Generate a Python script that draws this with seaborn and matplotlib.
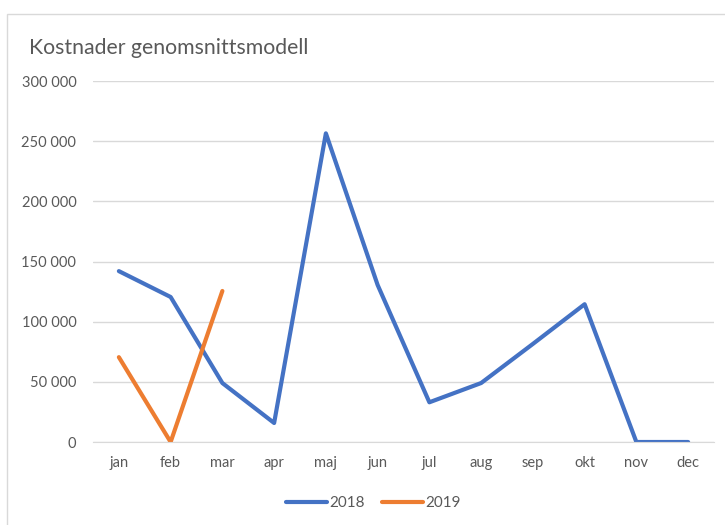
import pandas as pd
import matplotlib
matplotlib.use("Agg")
import matplotlib.pyplot as plt
import seaborn as sns
from matplotlib.ticker import FuncFormatter

months = ['jan', 'feb', 'mar', 'apr', 'maj', 'jun', 'jul', 'aug', 'sep', 'okt', 'nov', 'dec']
costs_2018 = [142000, 120500, 49000, 15800, 256500, 130500, 33000, 49000, 81500, 114500, 0, 0]
months_2019 = ['jan', 'feb', 'mar']
costs_2019 = [70500, 0, 125500]
yticks = [0, 50000, 100000, 150000, 200000, 250000, 300000]

df = pd.concat([
    pd.DataFrame({'month': months, 'cost': costs_2018, 'year': '2018'}),
    pd.DataFrame({'month': months_2019, 'cost': costs_2019, 'year': '2019'}),
])
df['x'] = df['month'].map({m: i for i, m in enumerate(months)})

sns.set_style('white')
plt.rcParams['font.family'] = ['Lato', 'DejaVu Sans']
grey = '#595959'

fig = plt.figure(figsize=(7.25, 5.25), dpi=100)
ax = fig.add_axes([93 / 725, 1 - 442 / 525, 621 / 725, 361 / 525])

sns.lineplot(data=df, x='x', y='cost', hue='year', palette={'2018': '#4472C4', '2019': '#ED7D31'},
             linewidth=3, ax=ax, legend=True)

ax.set_xlim(-0.5, 11.5)
ax.set_ylim(0, 300000)
ax.set_xticks(range(len(months)))
ax.set_xticklabels(months)
ax.set_yticks(yticks)
ax.yaxis.set_major_formatter(FuncFormatter(lambda v, p: f'{int(v):,}'.replace(',', ' ')))
ax.grid(axis='y', color='#d9d9d9', linewidth=1)
ax.set_axisbelow(True)
ax.tick_params(axis='both', colors=grey, labelsize=10.5, length=0)
ax.tick_params(axis='y', pad=12)
ax.tick_params(axis='x', pad=10)
ax.set_xlabel('')
ax.set_ylabel('')
for side in ['top', 'right', 'left']:
    ax.spines[side].set_visible(False)
ax.spines['bottom'].set_color('#d9d9d9')

handles, labels = ax.get_legend_handles_labels()
ax.legend(handles, labels, loc='center', bbox_to_anchor=(0.515, 1 - 503 / 525), bbox_transform=fig.transFigure,
          ncol=2, frameon=False, fontsize=11, labelcolor=grey, handlelength=2.7, columnspacing=1.1,
          handletextpad=0.15)

fig.text(29 / 725, 1 - 48 / 525, 'Kostnader genomsnittsmodell', fontsize=15.3, color=grey, va='center', ha='left')

fig.patches.append(plt.Rectangle((7 / 725, -0.01), 1.1, 1 - 14 / 525 + 0.01, transform=fig.transFigure,
                                 fill=False, edgecolor='#d9d9d9', linewidth=1))

fig.savefig('out.png', dpi=100)
